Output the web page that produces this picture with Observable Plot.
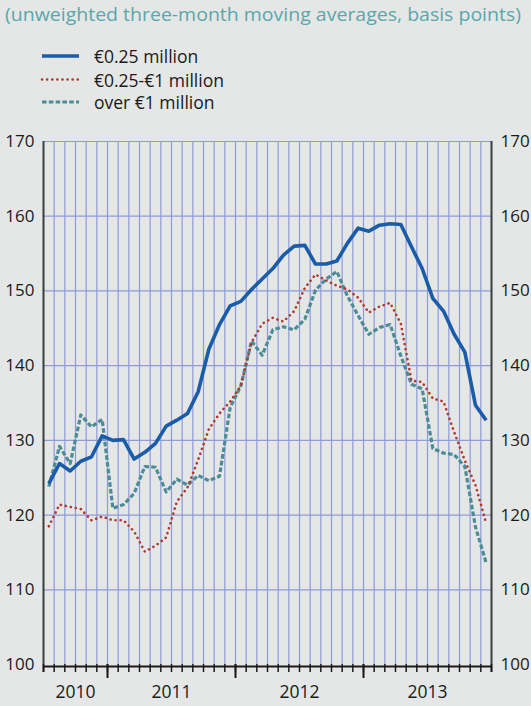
<!DOCTYPE html>
<html>
<head>
<meta charset="utf-8">
<script src="https://cdn.jsdelivr.net/npm/d3@7"></script>
<script src="https://cdn.jsdelivr.net/npm/@observablehq/plot@0.6"></script>
<style>
  html, body { margin: 0; padding: 0; background: #e5e6e6; }
  body { width: 531px; height: 706px; overflow: hidden; font-family: "Open Sans", sans-serif; }
  #head, #chart svg { display: block; }
</style>
</head>
<body>
<svg id="head" width="531" height="115"></svg>
<div id="chart"></div>
<script>
// ---- data ----
const titleText = "(unweighted three-month moving averages, basis points)";
const seriesNames = ["€0.25 million", "€0.25-€1 million", "over €1 million"];
// months Jul 2010 .. Dec 2013
const months = d3.utcMonth.range(new Date(Date.UTC(2010, 6, 1)), new Date(Date.UTC(2014, 0, 1)))
  .map(d => d3.utcFormat("%Y-%m")(d));
const small = [124.2, 126.9, 125.9, 127.2, 127.8, 130.6, 130.0, 130.1, 127.5, 128.4, 129.6, 131.9,
  132.7, 133.6, 136.5, 142.2, 145.5, 148.0, 148.6, 150.2, 151.6, 153.0, 154.8, 156.0,
  156.1, 153.6, 153.6, 154.0, 156.4, 158.4, 158.0, 158.8, 159.0, 158.9, 155.9, 153.0,
  149.0, 147.3, 144.2, 141.8, 134.7, 132.7];
const medium = [118.5, 121.4, 121.1, 120.8, 119.3, 119.8, 119.3, 119.3, 117.8, 115.1, 115.9, 117.0,
  121.8, 123.7, 127.4, 131.5, 133.6, 135.2, 137.3, 143.1, 145.6, 146.4, 145.9, 147.3,
  150.4, 152.2, 151.4, 150.7, 150.2, 149.1, 147.1, 147.9, 148.4, 145.6, 138.0, 137.8,
  135.6, 135.2, 131.1, 127.3, 124.0, 118.9];
const large = [123.8, 129.2, 126.9, 133.4, 131.8, 132.8, 120.9, 121.4, 122.9, 126.5, 126.4, 123.1,
  124.8, 124.0, 125.3, 124.6, 125.2, 134.4, 137.3, 143.3, 141.4, 144.8, 145.2, 144.8,
  146.2, 150.1, 151.6, 152.6, 149.3, 146.7, 144.2, 145.1, 145.5, 141.3, 137.5, 136.9,
  128.9, 128.3, 128.1, 126.5, 118.4, 113.6];
const yTicks = [100, 110, 120, 130, 140, 150, 160, 170];
const years = ["2010", "2011", "2012", "2013"];

// ---- styles ----
const styles = [
  {stroke: "#1a5ca8", strokeWidth: 3.6, strokeDasharray: null, strokeLinecap: "butt"},
  {stroke: "#b0392f", strokeWidth: 2.6, strokeDasharray: "0.1 5", strokeLinecap: "round"},
  {stroke: "#4d8c96", strokeWidth: 3.2, strokeDasharray: "4.6 2.2", strokeLinecap: "butt"}
];
const gridColor = "#8e9bd9";

// ---- header (title + legend) ----
const head = d3.select("#head");
head.append("text")
  .attr("x", 5).attr("y", 21)
  .attr("fill", "#5ba6aa")
  .attr("font-family", "'Open Sans', sans-serif")
  .attr("font-size", 17.5)
  .attr("textLength", 516)
  .attr("lengthAdjust", "spacingAndGlyphs")
  .text(titleText);
const legendY = [56, 79.5, 102];
seriesNames.forEach((name, k) => {
  const s = styles[k];
  head.append("line")
    .attr("x1", 42).attr("x2", 79)
    .attr("y1", legendY[k]).attr("y2", legendY[k])
    .attr("stroke", s.stroke).attr("stroke-width", s.strokeWidth)
    .attr("stroke-dasharray", s.strokeDasharray)
    .attr("stroke-linecap", s.strokeLinecap);
  head.append("text")
    .attr("x", 94).attr("y", legendY[k] + 7)
    .attr("fill", "#1a1a1a")
    .attr("font-family", "'Open Sans', sans-serif")
    .attr("font-size", 17.5)
    .text(name);
});

// ---- chart ----
const seriesValues = [small, medium, large];
const n = months.length;
const yearStarts = months.map((m, i) => m.endsWith("-01") ? i : null).filter(d => d !== null);
const yearCenters = years.map(y => d3.mean(months.map((m, i) => m.startsWith(y) ? i : null).filter(d => d !== null)) + 0.5);
const yearOf = new Map(yearCenters.map((c, k) => [c, years[k]]));

const lineMarks = seriesValues.map((vals, k) =>
  Plot.line(vals.map((v, i) => ({x: i + 0.5, y: v})), {
    x: "x", y: "y",
    stroke: styles[k].stroke,
    strokeWidth: styles[k].strokeWidth,
    strokeDasharray: styles[k].strokeDasharray,
    strokeLinecap: styles[k].strokeLinecap,
    strokeLinejoin: "round"
  })
);

const chart = Plot.plot({
  width: 531,
  height: 591,
  marginTop: 26,
  marginBottom: 42,
  marginLeft: 43,
  marginRight: 40,
  style: {background: "transparent", fontFamily: "'Open Sans', sans-serif", fontSize: "17px", color: "#1a1a1a"},
  x: {domain: [0, n], axis: null, label: null},
  y: {domain: [100, 170], axis: null, label: null},
  marks: [
    Plot.ruleX(d3.range(1, n), {stroke: gridColor, strokeWidth: 1.2}),
    Plot.ruleY(yTicks.slice(1), {stroke: gridColor, strokeWidth: 1.2}),
    // draw order: dashed, dotted, solid on top
    lineMarks[2], lineMarks[1], lineMarks[0],
    Plot.ruleX([0, n], {stroke: "#3c3c3c", strokeWidth: 2, insetBottom: -8}),
    Plot.ruleY([100], {stroke: "#1a1a1a", strokeWidth: 2, dy: 2}),
    Plot.axisY(yTicks, {anchor: "left", tickSize: 0, tickPadding: 9, fontSize: 17, label: null}),
    Plot.axisY(yTicks, {anchor: "right", tickSize: 0, tickPadding: 9, fontSize: 17, label: null}),
    Plot.axisX(d3.range(0, n + 1), {tickSize: 8, tickFormat: () => "", strokeWidth: 1.5, label: null}),
    Plot.axisX(yearStarts, {tickSize: 14, tickFormat: () => "", strokeWidth: 2, label: null}),
    Plot.axisX(yearCenters, {tickSize: 0, tickPadding: 21, tickFormat: d => yearOf.get(d), fontSize: 17.5, label: null})
  ]
});
document.getElementById("chart").appendChild(chart);
</script>
</body>
</html>
